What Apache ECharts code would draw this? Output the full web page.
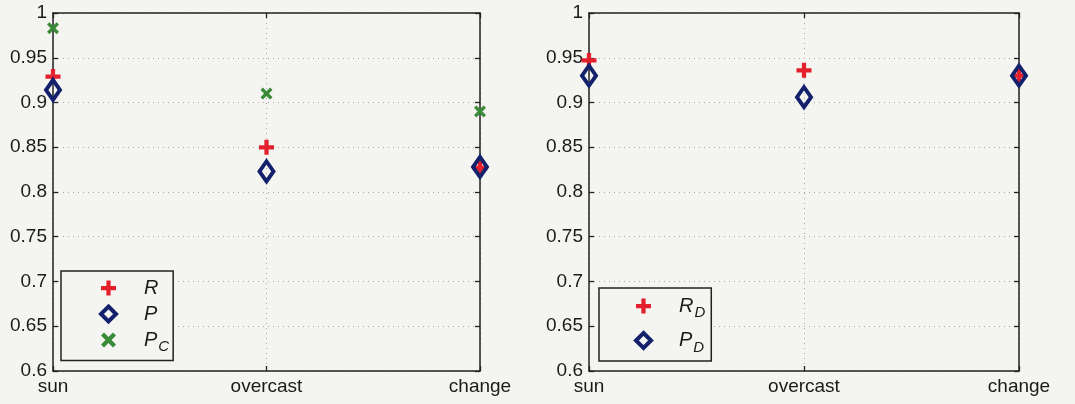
<!DOCTYPE html>
<html>
<head>
<meta charset="utf-8">
<script src="https://cdn.jsdelivr.net/npm/echarts@6/dist/echarts.min.js"></script>
<style>
  html, body { margin: 0; padding: 0; background: #f4f4f1; }
  #chart { width: 1075px; height: 404px; }
</style>
</head>
<body>
<div id="chart"></div>
<script>
  // data
  var categories = ['sun', 'overcast', 'change'];
  var yTicks = [0.6, 0.65, 0.7, 0.75, 0.8, 0.85, 0.9, 0.95, 1];
  // left panel
  var R  = [0.929, 0.850, 0.827];
  var P  = [0.914, 0.823, 0.828];
  var PC = [0.983, 0.910, 0.890];
  // right panel
  var RD = [0.947, 0.936, 0.930];
  var PD = [0.930, 0.906, 0.930];

  var RED = '#e4202c', NAVY = '#13206b', GREEN = '#3a8a38';
  var plusIcon = 'path://M4.3,0H7.7V4.3H12V7.7H7.7V12H4.3V7.7H0V4.3H4.3Z';
  var crossIcon = 'path://M0,2.4L2.4,0L6,3.6L9.6,0L12,2.4L8.4,6L12,9.6L9.6,12L6,8.4L2.4,12L0,9.6L3.6,6Z';
  var font = 'Liberation Sans, Arial, sans-serif';
  var AX = '#222';

  var grids = [
    {left: 53, top: 13, width: 427, height: 358},
    {left: 589, top: 13, width: 430, height: 358}
  ];

  function xAxes(i) {
    return [{
      type: 'category', gridIndex: i, data: categories, boundaryGap: false,
      axisLine: {lineStyle: {color: AX, width: 1.5}},
      axisTick: {inside: true, length: 5, lineStyle: {color: AX, width: 1.3}},
      axisLabel: {color: '#1a1a1a', fontSize: 19, fontFamily: font, margin: 6},
      splitLine: {show: true, lineStyle: {color: '#aaa', type: [1, 4]}}
    }, {
      type: 'category', gridIndex: i, data: categories, boundaryGap: false, position: 'top',
      axisLine: {lineStyle: {color: AX, width: 1.5}},
      axisTick: {inside: true, length: 5, lineStyle: {color: AX, width: 1.3}},
      axisLabel: {show: false}, splitLine: {show: false}
    }];
  }
  function yAxes(i) {
    return [{
      type: 'value', gridIndex: i, min: 0.6, max: 1, interval: 0.05,
      axisLine: {show: true, lineStyle: {color: AX, width: 1.5}},
      axisTick: {show: true, inside: true, length: 5, lineStyle: {color: AX, width: 1.3}},
      axisLabel: {color: '#1a1a1a', fontSize: 19, fontFamily: font, margin: 6},
      splitLine: {show: true, lineStyle: {color: '#aaa', type: [1, 4]}}
    }, {
      type: 'value', gridIndex: i, min: 0.6, max: 1, interval: 0.05, position: 'right',
      axisLine: {show: true, lineStyle: {color: AX, width: 1.5}},
      axisTick: {show: true, inside: true, length: 5, lineStyle: {color: AX, width: 1.3}},
      axisLabel: {show: false}, splitLine: {show: false}
    }];
  }

  var rich = {
    m: {fontSize: 20, fontStyle: 'italic', fontFamily: font, color: '#1a1a1a'},
    s: {fontSize: 15, fontStyle: 'italic', fontFamily: font, color: '#1a1a1a', padding: [14, 0, 0, 1]}
  };
  var names = {R: '{m|R}', P: '{m|P}', PC: '{m|P}{s|C}', RD: '{m|R}{s|D}', PD: '{m|P}{s|D}'};

  var hollow = {color: 'transparent', borderColor: NAVY, borderWidth: 4, opacity: 1};

  function legend(left, top, data, gap, pad) {
    return {
      orient: 'vertical', left: left, top: top, data: data, itemGap: gap,
      itemWidth: 15, itemHeight: 15, padding: pad,
      backgroundColor: '#f4f4f1', borderColor: AX, borderWidth: 1.5, borderRadius: 0,
      selectedMode: false,
      formatter: function (n) { return names[n]; },
      textStyle: {padding: [0, 0, 0, 23], rich: rich}
    };
  }

  function scatter(name, data, xi, yi, symbol, size, style) {
    return {
      name: name, type: 'scatter', data: data, xAxisIndex: xi, yAxisIndex: yi,
      symbol: symbol, symbolSize: size, itemStyle: style, silent: true
    };
  }

  var option = {
    backgroundColor: '#f4f4f1',
    animation: false,
    grid: grids,
    xAxis: xAxes(0).concat(xAxes(1)),
    yAxis: yAxes(0).concat(yAxes(1)),
    legend: [
      legend(61, 271, [
        {name: 'R', icon: plusIcon},
        {name: 'P', icon: 'diamond', itemStyle: hollow},
        {name: 'PC', icon: crossIcon}
      ], 6, [7, 4, 6, 38]),
      legend(599, 288, [
        {name: 'RD', icon: plusIcon},
        {name: 'PD', icon: 'diamond', itemStyle: hollow}
      ], 10, [8, 6, 6, 35])
    ],
    series: [
      scatter('R', R, 0, 0, plusIcon, 15, {color: RED, opacity: 1}),
      scatter('P', P, 0, 0, 'diamond', [14, 20], hollow),
      scatter('PC', PC, 0, 0, crossIcon, 12, {color: GREEN, opacity: 1}),
      scatter('RD', RD, 2, 2, plusIcon, 15, {color: RED, opacity: 1}),
      scatter('PD', PD, 2, 2, 'diamond', [14, 20], hollow)
    ]
  };

  echarts.init(document.getElementById('chart')).setOption(option);
</script>
</body>
</html>
